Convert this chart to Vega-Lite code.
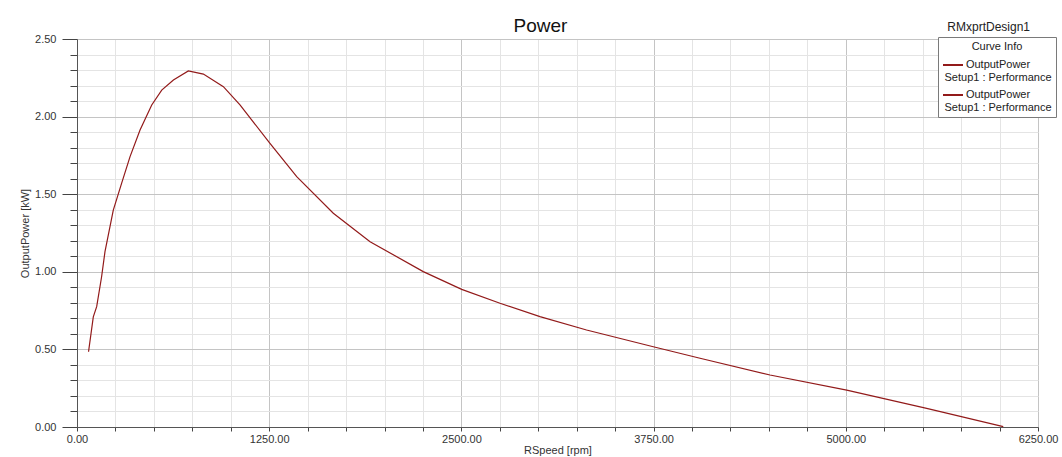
{
  "$schema": "https://vega.github.io/schema/vega-lite/v6.json",
  "width": 961,
  "height": 388,
  "autosize": {"type": "none"},
  "padding": {"left": 77, "top": 39, "right": 24, "bottom": 30},
  "background": "white",
  "config": {
    "font": "Liberation Sans",
    "view": {"stroke": "#8a8a8a", "strokeWidth": 1},
    "axis": {"labelFont": "Liberation Sans", "titleFont": "Liberation Sans", "labelColor": "#333333", "titleColor": "#333333", "titleFontWeight": "normal", "labelFontSize": 11, "titleFontSize": 11}
  },
  "title": {"text": "Power", "fontSize": 19, "fontWeight": "normal", "color": "#111111", "font": "Liberation Sans", "anchor": "middle", "offset": -15, "dx": -17},
  "data": {
    "values": [
      {"rpm": 75, "kw": 0.485, "curve": "c1"},
      {"rpm": 106, "kw": 0.71, "curve": "c1"},
      {"rpm": 128, "kw": 0.775, "curve": "c1"},
      {"rpm": 160, "kw": 0.968, "curve": "c1"},
      {"rpm": 182, "kw": 1.13, "curve": "c1"},
      {"rpm": 236, "kw": 1.398, "curve": "c1"},
      {"rpm": 290, "kw": 1.57, "curve": "c1"},
      {"rpm": 345, "kw": 1.742, "curve": "c1"},
      {"rpm": 410, "kw": 1.914, "curve": "c1"},
      {"rpm": 486, "kw": 2.075, "curve": "c1"},
      {"rpm": 551, "kw": 2.171, "curve": "c1"},
      {"rpm": 627, "kw": 2.236, "curve": "c1"},
      {"rpm": 724, "kw": 2.294, "curve": "c1"},
      {"rpm": 822, "kw": 2.274, "curve": "c1"},
      {"rpm": 952, "kw": 2.193, "curve": "c1"},
      {"rpm": 1060, "kw": 2.075, "curve": "c1"},
      {"rpm": 1255, "kw": 1.828, "curve": "c1"},
      {"rpm": 1429, "kw": 1.613, "curve": "c1"},
      {"rpm": 1667, "kw": 1.377, "curve": "c1"},
      {"rpm": 1906, "kw": 1.194, "curve": "c1"},
      {"rpm": 2252, "kw": 1.001, "curve": "c1"},
      {"rpm": 2502, "kw": 0.887, "curve": "c1"},
      {"rpm": 2751, "kw": 0.797, "curve": "c1"},
      {"rpm": 3011, "kw": 0.711, "curve": "c1"},
      {"rpm": 3314, "kw": 0.625, "curve": "c1"},
      {"rpm": 3748, "kw": 0.517, "curve": "c1"},
      {"rpm": 4052, "kw": 0.443, "curve": "c1"},
      {"rpm": 4507, "kw": 0.335, "curve": "c1"},
      {"rpm": 5006, "kw": 0.238, "curve": "c1"},
      {"rpm": 5526, "kw": 0.12, "curve": "c1"},
      {"rpm": 6024, "kw": 0.002, "curve": "c1"}
    ]
  },
  "layer": [
    {
      "mark": {"type": "line", "strokeWidth": 1.2, "interpolate": "linear"},
      "encoding": {
        "x": {
          "field": "rpm", "type": "quantitative",
          "scale": {"domain": [0, 6250], "nice": false, "zero": false},
          "axis": {
            "title": "RSpeed [rpm]",
            "tickCount": 40,
            "values": [0,250,500,750,1000,1250,1500,1750,2000,2250,2500,2750,3000,3250,3500,3750,4000,4250,4500,4750,5000,5250,5500,5750,6000,6250],
            "labelExpr": "datum.value % 1250 == 0 ? format(datum.value, '.2f') : ''",
            "labelFlush": false, "labelOverlap": false, "labelBound": false,
            "tickSize": 4, "tickColor": "#444444", "domainColor": "#555555",
            "labelPadding": 2, "titlePadding": 0,
            "gridColor": {"condition": {"test": "datum.value % 1250 == 0", "value": "#c4c4c4"}, "value": "#e4e4e4"}
          }
        },
        "y": {
          "field": "kw", "type": "quantitative",
          "scale": {"domain": [0, 2.5], "nice": false},
          "axis": {
            "title": "OutputPower [kW]",
            "tickCount": 40,
            "values": [0,0.1,0.2,0.3,0.4,0.5,0.6,0.7,0.8,0.9,1.0,1.1,1.2,1.3,1.4,1.5,1.6,1.7,1.8,1.9,2.0,2.1,2.2,2.3,2.4,2.5],
            "labelExpr": "round(datum.value*10) % 5 == 0 ? format(datum.value, '.2f') : ''",
            "labelOverlap": false, "labelBound": false, "labelFlush": false,
            "tickSize": {"condition": {"test": "round(datum.value*10) % 5 == 0", "value": 15}, "value": 7},
            "tickColor": "#444444", "domainColor": "#555555",
            "labelPadding": 6, "titlePadding": 4,
            "gridColor": {"condition": {"test": "round(datum.value*10) % 5 == 0", "value": "#c4c4c4"}, "value": "#e4e4e4"}
          }
        },
        "color": {
          "field": "curve", "type": "nominal",
          "scale": {"domain": ["c1", "c2"], "range": ["#921a1a", "#921a1a"]},
          "legend": {
            "title": "Curve Info",
            "orient": "none", "legendX": 861, "legendY": -2,
            "titleAnchor": "middle", "titleFontSize": 11, "titleFontWeight": "normal", "titleFont": "Liberation Sans", "titleColor": "#222222",
            "titlePadding": 2,
            "labelExpr": "['OutputPower', 'Setup1 : Performance']",
            "labelFontSize": 11, "labelFont": "Liberation Sans", "labelColor": "#222222", "labelLimit": 200,
            "labelAlign": "center", "labelLineHeight": 13,
            "labelOffset": 34,
            "symbolType": "stroke", "symbolStrokeWidth": 2, "symbolSize": 400,
            "fillColor": "white", "strokeColor": "#7a7a7a", "padding": 4, "rowPadding": 1
          }
        }
      }
    },
    {
      "data": {"values": [{"label": "RMxprtDesign1"}]},
      "mark": {"type": "text", "align": "right", "baseline": "middle", "fontSize": 12, "font": "Liberation Sans", "color": "#222222", "dx": -8, "dy": -12, "clip": false},
      "encoding": {
        "x": {"datum": 6250},
        "y": {"datum": 2.5},
        "text": {"field": "label"}
      }
    }
  ]
}
